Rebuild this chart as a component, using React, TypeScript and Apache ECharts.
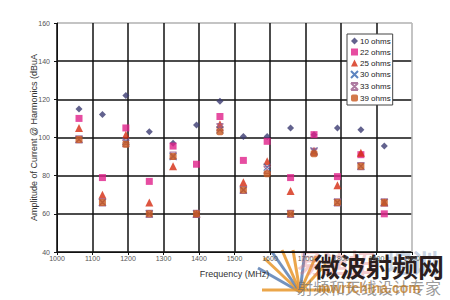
import React, { useEffect, useRef } from "react";
import * as echarts from "echarts";

const freqs = [1062, 1128, 1194, 1260, 1327, 1393, 1459, 1525, 1592, 1658, 1724, 1790, 1856, 1922];
const ohm10 = [115, 112, 122, 103, 97, 106.5, 119, 100.5, 100.5, 105, 101.5, 105, 104, 95.5];
const ohm22 = [110, 79, 105, 77, 95.5, 86, 111, 88, 98, 79, 101.5, 79.5, 91, 60];
const ohm25 = [105, 70, 101.5, 66, 85, 60, 107, 76.5, 87.5, 72, 93, 75, 92, 66];
const ohm30 = [99, 66, 98, 60, 90, 60, 104, 72.5, 84.5, 60, 93, 66, 85, 66];
const ohm33 = [99, 66, 97, 60, 90.5, 60, 105.5, 72.5, 83, 60, 92.5, 66, 85, 66];
const ohm39 = [99, 66, 96.5, 60, 90, 60, 103, 72.5, 81, 60, 91.5, 66, 85, 66];
const seriesNames = ["10 ohms", "22 ohms", "25 ohms", "30 ohms", "33 ohms", "39 ohms"];

const FONT = "'Liberation Sans', Arial, sans-serif";
const CJK = "'Noto Sans CJK SC', sans-serif";

function pts(vals: number[]) {
  return freqs.map((f, i) => [f, vals[i]]);
}

export default function App() {
  const ref = useRef<HTMLDivElement>(null);
  useEffect(() => {
    if (!ref.current) return;
    const chart = echarts.init(ref.current, undefined, { renderer: "svg" });
    const lineRay = (x1: number, y1: number, x2: number, y2: number, c: string) => ({
      type: "line",
      shape: { x1, y1, x2, y2 },
      style: { stroke: c, lineWidth: 3, opacity: 0.85 },
      silent: true,
    });
    const orange = "#e8962a";
    const blue = "#5b7fb3";
    const dark = "#111";
    chart.setOption({
      animation: false,
      backgroundColor: "#ffffff",
      textStyle: { fontFamily: FONT },
      grid: { left: 57, right: 38, top: 23, bottom: 48, show: true, borderColor: "#bbbbbb", borderWidth: 1 },
      xAxis: {
        type: "value",
        min: 1000,
        max: 2000,
        interval: 100,
        name: "Frequency (MHz)",
        nameLocation: "middle",
        nameGap: 17,
        nameMoveOverlap: false,
        nameTextStyle: { fontSize: 9, color: "#333", fontFamily: FONT },
        axisLine: { show: true, lineStyle: { color: dark, width: 1 } },
        axisTick: { show: true, length: 3, lineStyle: { color: dark } },
        axisLabel: { fontSize: 7, color: "#555", margin: 3, fontFamily: FONT, formatter: (v: number) => String(v) },
        splitLine: {
          show: true,
          lineStyle: {
            color: [dark, dark, dark, dark, dark, dark, dark, dark, dark, dark, "#bbb"],
            width: 1.5,
          },
        },
      },
      yAxis: {
        type: "value",
        min: 40,
        max: 160,
        interval: 20,
        name: "Amplitude of Current @ Harmonics (dBuA",
        nameLocation: "middle",
        nameGap: 19,
        nameMoveOverlap: false,
        nameTextStyle: { fontSize: 9, color: "#333", fontFamily: FONT },
        axisLine: { show: true, lineStyle: { color: dark, width: 1 } },
        axisTick: { show: true, length: 3, lineStyle: { color: dark } },
        axisLabel: { fontSize: 7, color: "#555", margin: 7, fontFamily: FONT },
        splitLine: {
          show: true,
          lineStyle: { color: [dark, dark, dark, dark, dark, dark, "#bbb"], width: 1.5 },
        },
      },
      legend: {
        orient: "vertical",
        left: 347,
        top: 34,
        data: seriesNames,
        itemWidth: 7,
        itemHeight: 7,
        itemGap: 3,
        padding: [3, 2, 3, 3],
        borderColor: "#444",
        borderWidth: 1,
        borderRadius: 0,
        backgroundColor: "#fff",
        textStyle: { fontSize: 8, color: "#222", fontFamily: FONT, padding: [0, 0, 0, -3] },
      },
      series: [
        { name: "10 ohms", type: "scatter", symbol: "diamond", symbolSize: 7, itemStyle: { color: "#3b3b72" }, data: pts(ohm10) },
        { name: "22 ohms", type: "scatter", symbol: "rect", symbolSize: 7, itemStyle: { color: "#e0218a" }, data: pts(ohm22) },
        { name: "25 ohms", type: "scatter", symbol: "triangle", symbolSize: 8, itemStyle: { color: "#d42a10" }, data: pts(ohm25) },
        {
          name: "30 ohms",
          type: "scatter",
          symbol: "path://M0,0L10,10M10,0L0,10",
          symbolSize: 7,
          itemStyle: { color: "transparent", borderColor: "#3565b0", borderWidth: 1.2 },
          data: pts(ohm30),
        },
        {
          name: "33 ohms",
          type: "scatter",
          symbol: "path://M0,0L10,10M10,0L0,10M0,0L10,0M0,10L10,10",
          symbolSize: 7,
          itemStyle: { color: "transparent", borderColor: "#9a5a8a", borderWidth: 1.2 },
          data: pts(ohm33),
        },
        { name: "39 ohms", type: "scatter", symbol: "roundRect", symbolSize: 7, itemStyle: { color: "#c8581e" }, data: pts(ohm39) },
      ],
      graphic: [
        lineRay(300, 292, 258, 268, blue),
        lineRay(300, 292, 264, 258, orange),
        lineRay(300, 292, 272, 252, blue),
        lineRay(300, 292, 282, 250, orange),
        lineRay(300, 292, 293, 250, orange),
        lineRay(300, 292, 305, 251, blue),
        lineRay(300, 292, 316, 256, orange),
        lineRay(300, 292, 326, 264, orange),
        lineRay(262, 290, 330, 290, orange),
        {
          type: "text",
          left: 297,
          top: 248,
          silent: true,
          style: { text: "易迪拓", fontSize: 26, fontWeight: "bold", fontFamily: CJK, fill: "rgba(226,110,120,0.35)" },
        },
        {
          type: "text",
          left: 386,
          top: 248,
          silent: true,
          style: { text: "培训", fontSize: 26, fontWeight: "bold", fontFamily: CJK, fill: "rgba(100,130,175,0.35)" },
        },
        {
          type: "text",
          left: 314,
          top: 252,
          silent: true,
          style: { text: "微波射频网", fontSize: 26, fontWeight: "bold", fontFamily: CJK, fill: "#2b1e1e" },
        },
        {
          type: "text",
          left: 297,
          top: 279,
          silent: true,
          style: { text: "射频和天线设计专家", fontSize: 16, fontFamily: CJK, fill: "rgba(110,110,110,0.7)" },
        },
        {
          type: "text",
          left: 318,
          top: 281,
          silent: true,
          style: { text: "mwrfchina.com", fontSize: 14, fontWeight: "bold", fontFamily: FONT, fill: "rgba(190,120,30,0.75)" },
        },
      ],
    });
    return () => chart.dispose();
  }, []);
  return <div ref={ref} style={{ position: "fixed", left: 0, top: 0, width: 450, height: 300 }} />;
}
